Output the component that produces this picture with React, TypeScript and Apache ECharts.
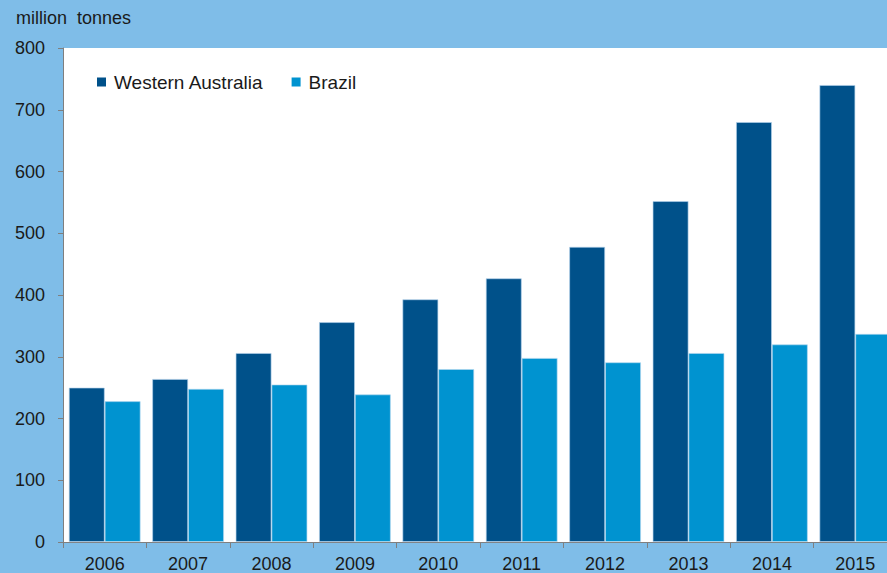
import React, { useEffect, useRef } from "react";
import * as echarts from "echarts";

const categories = ["2006", "2007", "2008", "2009", "2010", "2011", "2012", "2013", "2014", "2015"];
const westernAustralia = [250, 264, 306, 356, 393, 427, 478, 552, 680, 740];
const brazil = [228, 248, 255, 239, 280, 298, 291, 306, 320, 337];
const yTicks = { min: 0, max: 800, interval: 100 };
const unitLabel = "million  tonnes";

const FONT = "'Liberation Sans', Arial, sans-serif";
const BG = "#7fbde8";

export default function App() {
  const ref = useRef<HTMLDivElement>(null);
  useEffect(() => {
    if (!ref.current) return;
    const chart = echarts.init(ref.current, undefined, { renderer: "svg" });
    chart.setOption({
      animation: false,
      backgroundColor: BG,
      textStyle: { fontFamily: FONT },
      graphic: [
        {
          type: "text",
          left: 16,
          top: 9,
          style: { text: unitLabel, font: `18px ${FONT}`, fill: "#1a1a1a" },
        },
      ],
      legend: {
        left: 97,
        top: 72,
        padding: 0,
        icon: "rect",
        itemWidth: 9,
        itemHeight: 9,
        itemGap: 28,
        itemStyle: { borderWidth: 0 },
        textStyle: { fontSize: 19, color: "#1a1a1a", fontFamily: FONT, lineHeight: 20, padding: [0, 0, 0, 3] },
        data: ["Western Australia", "Brazil"],
      },
      grid: { left: 63, right: 3, top: 48, bottom: 31, containLabel: false, show: true, backgroundColor: "#ffffff", borderWidth: 0 },
      xAxis: {
        type: "category",
        data: categories,
        boundaryGap: true,
        axisLine: { lineStyle: { color: "#7f7f7f", width: 1 } },
        axisTick: { show: true, length: 6, lineStyle: { color: "#7f7f7f" } },
        axisLabel: { fontSize: 18, color: "#1a1a1a", fontFamily: FONT, margin: 13 },
      },
      yAxis: {
        type: "value",
        min: yTicks.min,
        max: yTicks.max,
        interval: yTicks.interval,
        axisLine: { show: true, lineStyle: { color: "#7f7f7f", width: 1 } },
        axisTick: { show: true, length: 5, lineStyle: { color: "#7f7f7f" } },
        axisLabel: { fontSize: 18, color: "#1a1a1a", fontFamily: FONT, margin: 18 },
        splitLine: { show: false },
      },
      series: [
        {
          name: "Western Australia",
          type: "bar",
          data: westernAustralia,
          barGap: "0%",
          barCategoryGap: "14%",
          itemStyle: { color: "#00518a", borderColor: "rgba(180,210,235,0.8)", borderWidth: 0.8 },
        },
        {
          name: "Brazil",
          type: "bar",
          data: brazil,
          barGap: "0%",
          barCategoryGap: "14%",
          itemStyle: { color: "#0093d0", borderColor: "rgba(180,215,240,0.8)", borderWidth: 0.8 },
        },
      ],
    });
    return () => chart.dispose();
  }, []);
  return (
    <div style={{ position: "absolute", left: 0, top: 0, width: 887, height: 573, overflow: "hidden", background: BG }}>
      <div ref={ref} style={{ width: 900, height: 573 }} />
    </div>
  );
}
